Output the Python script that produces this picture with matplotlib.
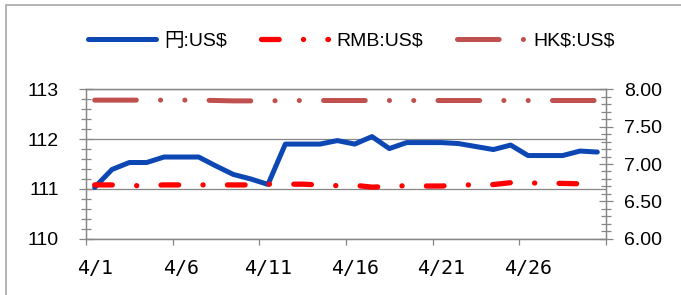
import matplotlib
matplotlib.use('Agg')
import matplotlib.pyplot as plt
from matplotlib.ticker import MultipleLocator, FixedLocator, FixedFormatter, NullFormatter, FormatStrFormatter
from matplotlib.patches import Rectangle
import numpy as np

# ---- data (April, daily) ----
days = list(range(1, 31))
yen = [111.03, 111.39, 111.53, 111.53, 111.64, 111.64, 111.64, 111.46, 111.29, 111.20,
       111.09, 111.90, 111.90, 111.90, 111.97, 111.90, 112.05, 111.81, 111.93, 111.93,
       111.93, 111.91, 111.85, 111.79, 111.88, 111.67, 111.67, 111.67, 111.76, 111.74]
rmb = [6.72, 6.72, 6.71, 6.71, 6.72, 6.72, 6.72, 6.72, 6.72, 6.72,
       6.73, 6.73, 6.73, 6.72, 6.71, 6.715, 6.69, 6.70, 6.71, 6.705,
       6.705, 6.72, 6.72, 6.725, 6.75, 6.745, 6.745, 6.74, 6.735, 6.735]
hkd = [7.855, 7.855, 7.855, 7.855, 7.855, 7.855, 7.855, 7.85, 7.845, 7.845,
       7.845, 7.85, 7.85, 7.85, 7.85, 7.85, 7.85, 7.85, 7.85, 7.85,
       7.85, 7.85, 7.85, 7.85, 7.85, 7.85, 7.85, 7.85, 7.85, 7.85]
xtick_days = [1, 6, 11, 16, 21, 26]
xtick_labels = ['4/1', '4/6', '4/11', '4/16', '4/21', '4/26']
legend_labels = ['円:US\\$', 'RMB:US\\$', 'HK\\$:US\\$']

plt.rcParams['lines.scale_dashes'] = False

GRAY = '#868686'
W, H = 681, 295
fig = plt.figure(figsize=(W / 100, H / 100), dpi=100)
ax = fig.add_axes([86 / W, 1 - 238.7 / H, 520 / W, 149.4 / H])
ax2 = ax.twinx()

x = np.array(days) - 0.5

l1, = ax.plot(x, yen, color='#0D47B4', lw=3.6, solid_capstyle='round',
              solid_joinstyle='round')
l2, = ax2.plot(x, rmb, color='#FF0000', lw=3.8,
               linestyle=(0, (12.7, 17.5, 0.1, 17.5)), dash_capstyle='round',
               dash_joinstyle='round')
l3, = ax2.plot(x, hkd, color='#C0504D', lw=3.6,
               linestyle=(0, (30, 17.4, 0.1, 17.4, 0.1, 17.4)), dash_capstyle='round',
               dash_joinstyle='round')

ax.set_xlim(0, 30)
ax.set_ylim(110, 113)
ax2.set_ylim(6, 8)

# y axes
ax.yaxis.set_major_locator(MultipleLocator(1))
ax.yaxis.set_minor_locator(MultipleLocator(0.2))
ax.yaxis.set_major_formatter(FormatStrFormatter('%d'))
ax2.yaxis.set_major_locator(MultipleLocator(0.5))
ax2.yaxis.set_minor_locator(MultipleLocator(0.1))
ax2.yaxis.set_major_formatter(FormatStrFormatter('%.2f'))

# x axis: tick marks at day boundaries, labels at day centres
ax.xaxis.set_major_locator(FixedLocator([0, 5, 10, 15, 20, 25, 30]))
ax.xaxis.set_major_formatter(NullFormatter())
ax.xaxis.set_minor_locator(FixedLocator([d - 0.5 for d in xtick_days]))
ax.xaxis.set_minor_formatter(FixedFormatter(xtick_labels))

yfont = 'Liberation Sans'
ax.tick_params(axis='y', which='major', direction='inout', length=10, width=0.9,
               color=GRAY, labelsize=14, pad=14.6, labelfontfamily=yfont)
ax.tick_params(axis='y', which='minor', direction='inout', length=6.5, width=0.9, color=GRAY)
ax2.tick_params(axis='y', which='major', direction='inout', length=10, width=0.9,
                color=GRAY, labelsize=14, pad=8.3, labelfontfamily=yfont)
ax2.tick_params(axis='y', which='minor', direction='inout', length=6.5, width=0.9, color=GRAY)
ax.tick_params(axis='x', which='major', direction='out', length=4.5, width=0.9, color=GRAY)
ax.tick_params(axis='x', which='minor', length=0, labelsize=14.4, pad=14.5,
               labelfontfamily='DejaVu Sans Mono')

ax.grid(axis='y', which='major', color=GRAY, lw=0.9)
ax.set_axisbelow(True)
for a in (ax, ax2):
    for s in a.spines.values():
        s.set_color(GRAY)
        s.set_linewidth(0.9)

# chart-area border
fig.patches.append(Rectangle((5.5 / W, -0.5), 2, 1.5 - 4.8 / H, transform=fig.transFigure,
                             fill=False, ec='#A0A0A0', lw=1.1))

fig.legend([l1, l2, l3], legend_labels, loc='center',
           bbox_to_anchor=(351.5 / W, 1 - 40.7 / H), ncol=3, frameon=False,
           handlelength=3.45, handletextpad=0.44, columnspacing=1.75,
           borderaxespad=0, borderpad=0,
           prop={'family': ['Liberation Sans', 'Noto Sans CJK JP'], 'size': 14})

fig.savefig('out.png', dpi=100)
